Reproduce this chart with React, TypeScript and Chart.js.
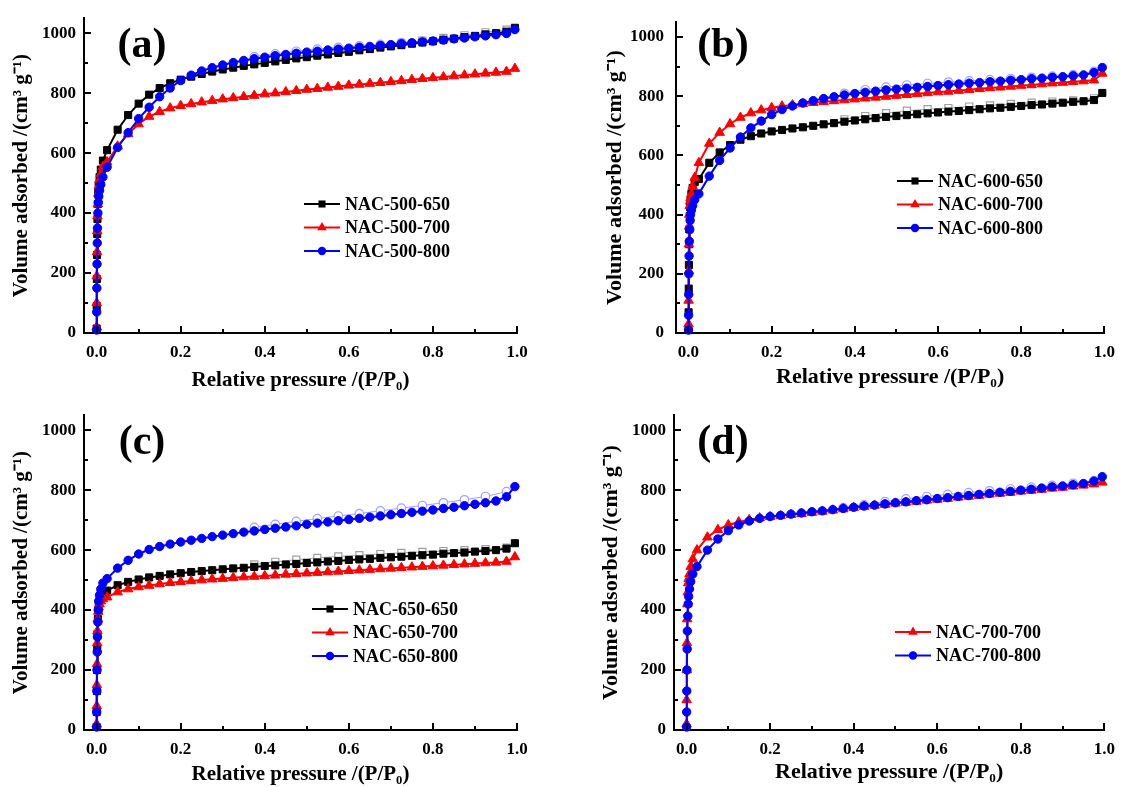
import React, { useEffect, useRef } from 'react';
import { Chart, registerables } from 'chart.js';

Chart.register(...registerables);

const FONT = "'Liberation Serif', 'Times New Roman', Times, serif";

// Relative pressure (P/P0) of the adsorption points
const P = [
  0.0001, 0.0003, 0.0006, 0.001, 0.0015, 0.002, 0.003, 0.004, 0.005, 0.007, 0.01, 0.015,
  0.025, 0.05, 0.075, 0.1, 0.125, 0.15, 0.175, 0.2, 0.225, 0.25,
  0.275, 0.3, 0.325, 0.35, 0.375, 0.4, 0.425, 0.45, 0.475, 0.5,
  0.525, 0.55, 0.575, 0.6, 0.625, 0.65, 0.675, 0.7, 0.725, 0.75,
  0.775, 0.8, 0.825, 0.85, 0.875, 0.9, 0.925, 0.95, 0.975, 0.995,
];
// Relative pressure of the desorption points
const DES_P = [0.375, 0.425, 0.475, 0.525, 0.575, 0.625, 0.675, 0.725, 0.775, 0.825, 0.875, 0.925, 0.975];

const X_TICKS = [0, 0.2, 0.4, 0.6, 0.8, 1.0];
const X_MINOR = [0.1, 0.3, 0.5, 0.7, 0.9];
const Y_TICKS = [0, 200, 400, 600, 800, 1000];
const Y_MINOR = [100, 300, 500, 700, 900];

// (a)
const A_650 = [
  15, 90, 180, 260, 330, 380, 430, 470, 495, 520, 545, 575,
  610, 678, 727, 765, 795, 817, 833, 845, 855, 864,
  872, 879, 885, 891, 896, 901, 906, 911, 916, 920,
  925, 929, 934, 938, 943, 947, 952, 956, 960, 965,
  969, 973, 978, 982, 987, 991, 996, 1000, 1005, 1018,
];
const A_700 = [
  20, 100, 190, 270, 340, 390, 430, 465, 490, 510, 530, 555,
  570, 623, 664, 697, 722, 738, 750, 758, 764, 770,
  775, 780, 784, 788, 792, 797, 800, 804, 808, 812,
  815, 819, 822, 826, 829, 832, 835, 838, 841, 845,
  848, 851, 854, 857, 860, 863, 866, 869, 872, 882,
];
const A_800 = [
  10, 70, 150, 230, 300, 350, 400, 435, 455, 475, 495, 520,
  553, 619, 668, 715, 753, 788, 817, 842, 860, 874,
  885, 894, 902, 909, 915, 920, 925, 929, 933, 937,
  940, 944, 947, 950, 953, 956, 959, 962, 965, 968,
  971, 974, 977, 981, 984, 988, 991, 995, 999, 1012,
];
const A_650_DES = [903, 912, 922, 931, 940, 950, 958, 966, 975, 984, 993, 1003, 1012];
const A_800_DES = [922, 931, 940, 947, 953, 958, 963, 969, 974, 980, 987, 994, 1003];

// (b)
const B_650 = [
  10, 70, 150, 230, 300, 350, 395, 425, 450, 470, 490, 510,
  520, 575, 610, 635, 653, 665, 674, 681, 686, 691,
  695, 700, 705, 709, 714, 718, 722, 726, 730, 733,
  736, 739, 742, 745, 748, 750, 753, 756, 759, 761,
  764, 767, 770, 772, 775, 778, 781, 783, 787, 811,
];
const B_700 = [
  30, 110, 210, 300, 360, 400, 430, 445, 455, 470, 495, 525,
  575, 640, 677, 706, 728, 743, 753, 761, 766, 770,
  774, 778, 781, 784, 787, 790, 793, 796, 799, 802,
  805, 808, 811, 814, 816, 819, 822, 825, 828, 830,
  833, 836, 838, 841, 844, 846, 849, 851, 854, 877,
];
const B_800 = [
  10, 60, 130, 200, 260, 310, 350, 380, 400, 415, 430, 450,
  470, 530, 583, 625, 662, 693, 716, 738, 755, 767,
  777, 785, 792, 798, 804, 809, 813, 817, 821, 824,
  827, 830, 833, 836, 839, 841, 844, 846, 849, 851,
  854, 856, 859, 861, 864, 866, 869, 872, 880, 897,
];
const B_650_DES = [722, 733, 743, 751, 756, 760, 765, 769, 774, 778, 782, 786, 793];
const B_800_DES = [810, 822, 831, 838, 843, 848, 852, 856, 860, 864, 868, 873, 884];

// (c)
const C_650 = [
  10, 60, 130, 200, 270, 320, 370, 400, 420, 440, 455, 460,
  465, 483, 494, 502, 509, 514, 519, 523, 527, 530,
  533, 536, 539, 541, 544, 547, 549, 552, 554, 557,
  559, 562, 564, 567, 569, 571, 574, 576, 578, 581,
  583, 585, 588, 590, 592, 595, 597, 600, 605, 623,
];
const C_700 = [
  20, 80, 150, 220, 290, 330, 370, 395, 410, 420, 430, 437,
  443, 460, 470, 477, 482, 487, 491, 494, 497, 500,
  503, 505, 508, 510, 512, 514, 516, 519, 521, 523,
  525, 527, 529, 531, 533, 535, 537, 539, 541, 543,
  545, 547, 549, 551, 553, 555, 557, 559, 562, 577,
];
const C_800 = [
  10, 60, 130, 200, 260, 310, 360, 400, 430, 450, 470, 490,
  505, 540, 566, 587, 602, 612, 620, 627, 633, 639,
  645, 650, 655, 660, 664, 669, 673, 677, 681, 686,
  690, 694, 698, 702, 706, 710, 714, 718, 722, 726,
  730, 734, 739, 743, 748, 753, 758, 764, 778, 812,
];
const C_650_DES = [552, 561, 568, 574, 579, 583, 587, 591, 594, 597, 600, 603, 608];
const C_800_DES = [676, 686, 696, 705, 714, 722, 731, 740, 749, 758, 768, 779, 795];

// (d)
const D_700 = [
  20, 100, 200, 290, 370, 420, 460, 490, 505, 520, 545, 570,
  600, 643, 668, 684, 694, 701, 707, 711, 714, 718,
  721, 725, 729, 733, 737, 741, 745, 749, 752, 756,
  759, 762, 766, 769, 772, 776, 779, 782, 786, 789,
  792, 796, 799, 802, 806, 809, 813, 816, 820, 826,
];
const D_800 = [
  10, 60, 130, 200, 270, 330, 380, 420, 445, 470, 495, 520,
  545, 600, 637, 665, 684, 697, 706, 712, 716, 720,
  724, 728, 731, 735, 739, 743, 747, 750, 754, 758,
  761, 765, 768, 772, 775, 779, 782, 786, 789, 793,
  796, 800, 803, 807, 811, 814, 818, 822, 830, 845,
];
const D_800_DES = [742, 752, 762, 771, 779, 786, 792, 798, 804, 810, 816, 823, 832];

const X_TITLE = 'Relative pressure /(P/P\u2080)';
const Y_TITLE = 'Volume adsorbed /(cm\u00b3 g\u207b\u00b9)';

const BLACK = { color: '#000000', light: '#a0a0a0', shape: 'rect', radius: 5 };
const RED = { color: '#ff0000', light: '#ffa0a0', shape: 'triangle', radius: 5.5 };
const BLUE = { color: '#0000ff', light: '#a0a0ff', shape: 'circle', radius: 4.2 };

type Series = { label: string; y: number[]; des?: number[]; style: typeof BLACK };

type PanelCfg = {
  tag: string;
  left: number; top: number; width: number; height: number;
  yAxisW: number; xAxisH: number; padTop: number; padRight: number;
  yTitlePad: number; yTickPad: number; xTitlePad: number; titleSize: number;
  tagX: number; tagY: number; legX: number; legY: number;
  series: Series[];
};

const PANELS: PanelCfg[] = [
  {
    tag: '(a)', left: 0, top: 0, width: 562, height: 393,
    yAxisW: 84, xAxisH: 60, padTop: 15, padRight: 45,
    yTitlePad: 9, yTickPad: 8, xTitlePad: 0, titleSize: 21,
    tagX: 142, tagY: 46, legX: 304, legY: 204,
    series: [
      { label: 'NAC-500-650', y: A_650, des: A_650_DES, style: BLACK },
      { label: 'NAC-500-700', y: A_700, style: RED },
      { label: 'NAC-500-800', y: A_800, des: A_800_DES, style: BLUE },
    ],
  },
  {
    tag: '(b)', left: 562, top: 0, width: 562, height: 393,
    yAxisW: 114, xAxisH: 60, padTop: 15, padRight: 15,
    yTitlePad: 40, yTickPad: 12, xTitlePad: 2, titleSize: 22,
    tagX: 161, tagY: 46, legX: 335, legY: 181,
    series: [
      { label: 'NAC-600-650', y: B_650, des: B_650_DES, style: BLACK },
      { label: 'NAC-600-700', y: B_700, style: RED },
      { label: 'NAC-600-800', y: B_800, des: B_800_DES, style: BLUE },
    ],
  },
  {
    tag: '(c)', left: 0, top: 397, width: 562, height: 390,
    yAxisW: 84, xAxisH: 57, padTop: 16, padRight: 45,
    yTitlePad: 9, yTickPad: 8, xTitlePad: 0, titleSize: 21,
    tagX: 142, tagY: 46, legX: 312, legY: 212,
    series: [
      { label: 'NAC-650-650', y: C_650, des: C_650_DES, style: BLACK },
      { label: 'NAC-650-700', y: C_700, style: RED },
      { label: 'NAC-650-800', y: C_800, des: C_800_DES, style: BLUE },
    ],
  },
  {
    tag: '(d)', left: 562, top: 397, width: 562, height: 390,
    yAxisW: 112, xAxisH: 57, padTop: 16, padRight: 18,
    yTitlePad: 36, yTickPad: 8, xTitlePad: 1, titleSize: 22,
    tagX: 161, tagY: 46, legX: 333, legY: 235,
    series: [
      { label: 'NAC-700-700', y: D_700, style: RED },
      { label: 'NAC-700-800', y: D_800, des: D_800_DES, style: BLUE },
    ],
  },
];

function drawMarker(ctx: CanvasRenderingContext2D, shape: string, cx: number, cy: number, r: number) {
  ctx.beginPath();
  if (shape === 'rect') {
    const s = r * Math.SQRT1_2;
    ctx.rect(cx - s, cy - s, 2 * s, 2 * s);
  } else if (shape === 'triangle') {
    ctx.moveTo(cx, cy - r);
    ctx.lineTo(cx + r * 0.866, cy + r * 0.5);
    ctx.lineTo(cx - r * 0.866, cy + r * 0.5);
    ctx.closePath();
  } else {
    ctx.arc(cx, cy, r, 0, Math.PI * 2);
  }
  ctx.fill();
}

const decorPlugin = {
  id: 'decor',
  afterDraw(chart: any, _args: any, opts: any) {
    const ctx: CanvasRenderingContext2D = chart.ctx;
    const { left, bottom } = chart.chartArea;
    const xs = chart.scales.x;
    const ys = chart.scales.y;
    ctx.save();
    // inward tick marks
    ctx.strokeStyle = '#000';
    ctx.lineWidth = 2;
    ctx.beginPath();
    X_TICKS.forEach((v) => { const px = Math.round(xs.getPixelForValue(v)); ctx.moveTo(px, bottom); ctx.lineTo(px, bottom - 7); });
    Y_TICKS.forEach((v) => { const py = Math.round(ys.getPixelForValue(v)); ctx.moveTo(left, py); ctx.lineTo(left + 7, py); });
    ctx.stroke();
    ctx.beginPath();
    X_MINOR.forEach((v) => { const px = Math.round(xs.getPixelForValue(v)); ctx.moveTo(px, bottom); ctx.lineTo(px, bottom - 4); });
    Y_MINOR.forEach((v) => { const py = Math.round(ys.getPixelForValue(v)); ctx.moveTo(left, py); ctx.lineTo(left + 4, py); });
    ctx.stroke();

    // panel tag
    ctx.fillStyle = '#000';
    ctx.font = `bold 42px ${FONT}`;
    ctx.textAlign = 'center';
    ctx.textBaseline = 'middle';
    ctx.fillText(opts.tag, opts.tagX, opts.tagY);

    // legend
    ctx.font = `bold 18px ${FONT}`;
    ctx.textAlign = 'left';
    let row = 0;
    chart.data.datasets.forEach((ds: any) => {
      if (ds.isDes) return;
      const y = opts.legY + row * 23.5;
      ctx.strokeStyle = ds.borderColor;
      ctx.lineWidth = 2;
      ctx.beginPath();
      ctx.moveTo(opts.legX, y);
      ctx.lineTo(opts.legX + 36, y);
      ctx.stroke();
      ctx.fillStyle = ds.borderColor;
      drawMarker(ctx, ds.pointStyle, opts.legX + 18, y, ds.pointRadius);
      ctx.fillStyle = '#000';
      ctx.fillText(ds.label, opts.legX + 41, y + 1);
      row++;
    });
    ctx.restore();
  },
};

function buildConfig(cfg: PanelCfg): any {
  const datasets: any[] = [];
  const n = cfg.series.length;
  cfg.series.forEach((s) => {
    if (s.des) {
      datasets.push({
        label: s.label + ' (desorption)',
        isDes: true,
        data: DES_P.map((x, k) => ({ x, y: s.des![k] })),
        borderColor: s.style.light,
        backgroundColor: '#ffffff',
        borderWidth: 1,
        pointStyle: s.style.shape,
        pointRadius: s.style.radius,
        pointBorderWidth: 1.2,
        pointBackgroundColor: '#ffffff',
        pointBorderColor: s.style.light,
        showLine: true,
        clip: false,
        order: 20,
      });
    }
  });
  cfg.series.forEach((s, i) => {
    datasets.push({
      label: s.label,
      isDes: false,
      data: P.map((x, k) => ({ x, y: s.y[k] })),
      borderColor: s.style.color,
      backgroundColor: s.style.color,
      borderWidth: 2,
      pointStyle: s.style.shape,
      pointRadius: s.style.radius,
      pointBorderWidth: 1,
      pointBackgroundColor: s.style.color,
      pointBorderColor: s.style.color,
      showLine: true,
      clip: false,
      order: n - i,
    });
  });

  const tickFont = { family: FONT, size: 17, weight: 'bold' as const };
  const titleFont = { family: FONT, size: cfg.titleSize, weight: 'bold' as const };

  return {
    type: 'scatter',
    data: { datasets },
    plugins: [decorPlugin],
    options: {
      animation: false,
      responsive: false,
      maintainAspectRatio: false,
      devicePixelRatio: 1,
      layout: { padding: { top: cfg.padTop, right: cfg.padRight, left: 0, bottom: 0 } },
      plugins: {
        legend: { display: false },
        tooltip: { enabled: false },
        decor: { tag: cfg.tag, tagX: cfg.tagX, tagY: cfg.tagY, legX: cfg.legX, legY: cfg.legY },
      },
      scales: {
        x: {
          type: 'linear',
          min: -0.03,
          max: 1.0,
          grid: { display: false, drawTicks: false },
          border: { display: true, color: '#000', width: 2 },
          ticks: {
            color: '#000', font: tickFont, padding: 9, maxRotation: 0, autoSkip: false,
            callback: (v: any) => Number(v).toFixed(1),
          },
          afterBuildTicks: (s: any) => { s.ticks = X_TICKS.map((v) => ({ value: v })); },
          afterFit: (s: any) => { s.height = cfg.xAxisH; },
          title: { display: true, text: X_TITLE, color: '#000', font: titleFont, padding: { top: 0, bottom: cfg.xTitlePad } },
        },
        y: {
          type: 'linear',
          min: 0,
          max: 1050,
          grid: { display: false, drawTicks: false },
          border: { display: true, color: '#000', width: 2 },
          ticks: {
            color: '#000', font: tickFont, padding: cfg.yTickPad,
            callback: (v: any) => String(v),
          },
          afterBuildTicks: (s: any) => { s.ticks = Y_TICKS.map((v) => ({ value: v })); },
          afterFit: (s: any) => { s.width = cfg.yAxisW; },
          title: { display: true, text: Y_TITLE, color: '#000', font: titleFont, padding: { top: cfg.yTitlePad, bottom: 0 } },
        },
      },
    },
  };
}

function Panel({ cfg }: { cfg: PanelCfg }) {
  const ref = useRef<HTMLCanvasElement>(null);
  useEffect(() => {
    if (!ref.current) return;
    const chart = new Chart(ref.current, buildConfig(cfg));
    return () => chart.destroy();
  }, [cfg]);
  return (
    <canvas
      ref={ref}
      width={cfg.width}
      height={cfg.height}
      style={{ position: 'absolute', left: cfg.left, top: cfg.top, width: cfg.width, height: cfg.height }}
    />
  );
}

export default function App() {
  return (
    <div style={{ position: 'absolute', left: 0, top: 0, width: 1124, height: 787, background: '#ffffff', overflow: 'hidden' }}>
      {PANELS.map((p) => (
        <Panel key={p.tag} cfg={p} />
      ))}
    </div>
  );
}
